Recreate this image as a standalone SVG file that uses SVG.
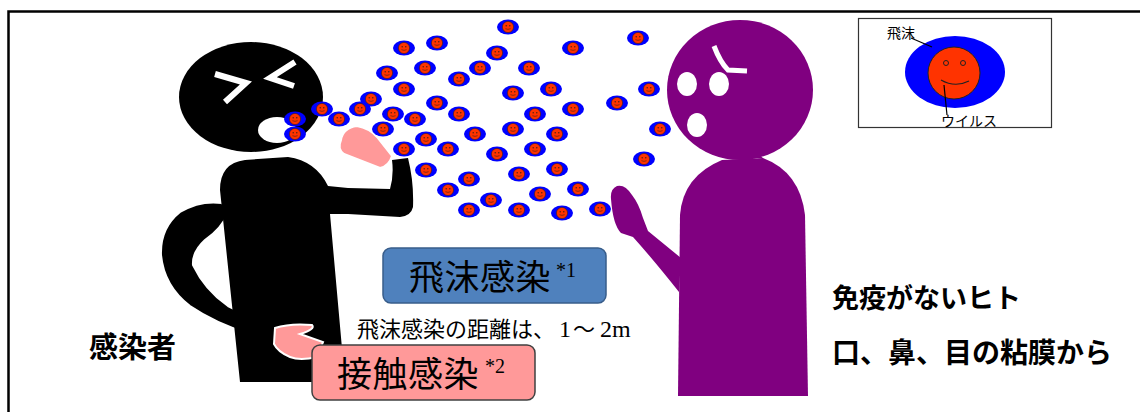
<svg xmlns="http://www.w3.org/2000/svg" xmlns:xlink="http://www.w3.org/1999/xlink" width="1140" height="412" viewBox="0 0 1140 412">
  <style>
    .jp { font-family: "Noto Sans CJK JP", "Noto Sans", sans-serif; fill: #000; }
    .bold { font-weight: bold; }
    .sup { font-family: "Liberation Serif", "DejaVu Serif", serif; fill: #000; }
    .lbl { font-size: 14px; }
    .box-title { font-size: 35px; letter-spacing: 0.5px; }
    .leader { stroke: #000; stroke-width: 1.2; fill: none; }
    .skin { fill: #ff9999; stroke: #fff; stroke-width: 2; }
    .white-mark { fill: none; stroke: #fff; stroke-width: 6; stroke-linecap: butt; stroke-linejoin: miter; }
  </style>
  <defs>
    <filter id="soft" x="-20%" y="-30%" width="140%" height="160%">
      <feGaussianBlur stdDeviation="0.7"/>
    </filter>
    <!-- droplet carrying a virus particle -->
    <symbol id="drop" overflow="visible">
      <ellipse cx="0" cy="0" rx="11" ry="7.5" fill="#0000ff" filter="url(#soft)"/>
      <circle cx="0" cy="0" r="5.6" fill="#ff3300" stroke="#402010" stroke-width="0.6"/>
      <circle cx="-1.8" cy="-1.3" r="0.7" fill="#402010"/>
      <circle cx="1.8" cy="-1.3" r="0.7" fill="#402010"/>
      <path d="M-2.6,1.7 Q0,3 2.6,1.7" fill="none" stroke="#402010" stroke-width="0.6"/>
    </symbol>
  </defs>

  <rect width="1140" height="412" fill="#fff"/>

  <!-- outer frame -->
  <path d="M8.5,412 V11.5 H1140" fill="none" stroke="#000" stroke-width="2.5"/>

  <!-- infected person (black) -->
  <g id="infected-person">
    <!-- arm behind the back -->
    <path d="M222,203 Q200,200 180,212 Q160,228 161,255 Q164,286 190,306 Q215,323 250,334 L276,343 L276,324 Q250,318 228,306 Q205,290 193,265 Q192,252 205,240 Q222,228 228,213 Z" fill="#000" stroke="#fff" stroke-width="2"/>
    <!-- torso with raised arm -->
    <path d="M240,382 L220,190 Q220,163 245,160 L288,157 Q316,161 328,186 L348,188 L390,189 Q394,175 392,160 L408,158 Q414,182 413,207 Q411,216 400,217 L348,214 L330,214 L345,382 Z" fill="#000"/>
    <!-- hand held to the mouth -->
    <path class="skin" d="M341,140 Q343,128 357,126 Q369,128 377,137 L392,156 Q389,166 380,168 L344,154 Q337,149 341,140 Z"/>
    <!-- hand on the back -->
    <path class="skin" d="M275,328 Q290,323 312,325 Q316,329 300,334 L323,342 L317,357 Q300,361 290,357 Q278,352 274,344 Z"/>
    <!-- head -->
    <ellipse cx="251" cy="97" rx="72" ry="55" fill="#000"/>
    <ellipse cx="277" cy="130" rx="19" ry="13" fill="#fff"/>
    <!-- squeezed eyes -->
    <path class="white-mark" d="M215,74 L246,83 L225,102"/>
    <path class="white-mark" d="M295,62 L270,78 L294,86"/>
  </g>

  <!-- healthy person (purple) -->
  <g id="healthy-person">
    <path d="M678,396 L680,215 Q683,176 722,160 L763,158 Q800,172 805,215 L808,396 Z" fill="#800080"/>
    <path d="M681,258 L648,231 L643,218 Q639,204 632,195 Q625,184 617,186 Q610,189 611,199 Q613,225 621,233 L633,237 Q652,258 679,292 Z" fill="#800080"/>
    <ellipse cx="740" cy="90" rx="73" ry="70" fill="#800080"/>
    <path d="M722,158 L763,158 L752,150 L732,150 Z" fill="#800080"/>
    <!-- face -->
    <ellipse cx="687" cy="84" rx="10" ry="12" fill="#fff"/>
    <ellipse cx="719" cy="84" rx="10" ry="12" fill="#fff"/>
    <ellipse cx="697" cy="125" rx="10" ry="12" fill="#fff"/>
    <path d="M714,46 Q720,62 728,70 L747,71" fill="none" stroke="#fff" stroke-width="5"/>
  </g>

  <!-- droplets spreading from the mouth -->
  <g id="droplets">
    <use xlink:href="#drop" x="508" y="27"/>
    <use xlink:href="#drop" x="638" y="38"/>
    <use xlink:href="#drop" x="404" y="48"/>
    <use xlink:href="#drop" x="437" y="43"/>
    <use xlink:href="#drop" x="497" y="53"/>
    <use xlink:href="#drop" x="573" y="48"/>
    <use xlink:href="#drop" x="387" y="73"/>
    <use xlink:href="#drop" x="425" y="68"/>
    <use xlink:href="#drop" x="480" y="68"/>
    <use xlink:href="#drop" x="529" y="68"/>
    <use xlink:href="#drop" x="459" y="79"/>
    <use xlink:href="#drop" x="404" y="89"/>
    <use xlink:href="#drop" x="513" y="93"/>
    <use xlink:href="#drop" x="551" y="89"/>
    <use xlink:href="#drop" x="649" y="89"/>
    <use xlink:href="#drop" x="371" y="99"/>
    <use xlink:href="#drop" x="322" y="109"/>
    <use xlink:href="#drop" x="360" y="109"/>
    <use xlink:href="#drop" x="437" y="103"/>
    <use xlink:href="#drop" x="393" y="114"/>
    <use xlink:href="#drop" x="459" y="114"/>
    <use xlink:href="#drop" x="535" y="114"/>
    <use xlink:href="#drop" x="573" y="109"/>
    <use xlink:href="#drop" x="617" y="103"/>
    <use xlink:href="#drop" x="295" y="119"/>
    <use xlink:href="#drop" x="339" y="119"/>
    <use xlink:href="#drop" x="415" y="119"/>
    <use xlink:href="#drop" x="383" y="129"/>
    <use xlink:href="#drop" x="513" y="129"/>
    <use xlink:href="#drop" x="475" y="134"/>
    <use xlink:href="#drop" x="557" y="134"/>
    <use xlink:href="#drop" x="660" y="129"/>
    <use xlink:href="#drop" x="295" y="134"/>
    <use xlink:href="#drop" x="426" y="139"/>
    <use xlink:href="#drop" x="404" y="149"/>
    <use xlink:href="#drop" x="448" y="149"/>
    <use xlink:href="#drop" x="535" y="149"/>
    <use xlink:href="#drop" x="497" y="154"/>
    <use xlink:href="#drop" x="426" y="170"/>
    <use xlink:href="#drop" x="519" y="174"/>
    <use xlink:href="#drop" x="557" y="169"/>
    <use xlink:href="#drop" x="644" y="159"/>
    <use xlink:href="#drop" x="469" y="179"/>
    <use xlink:href="#drop" x="448" y="190"/>
    <use xlink:href="#drop" x="540" y="194"/>
    <use xlink:href="#drop" x="578" y="189"/>
    <use xlink:href="#drop" x="491" y="200"/>
    <use xlink:href="#drop" x="469" y="210"/>
    <use xlink:href="#drop" x="519" y="210"/>
    <use xlink:href="#drop" x="562" y="213"/>
    <use xlink:href="#drop" x="600" y="209"/>
  </g>

  <!-- legend: droplet and virus -->
  <g id="legend">
    <rect x="858.5" y="18.5" width="193" height="109" fill="#fff" stroke="#333" stroke-width="1.2"/>
    <ellipse cx="955" cy="72" rx="50" ry="36" fill="#0000ff" filter="url(#soft)"/>
    <circle cx="954" cy="73" r="26" fill="#ff3300" stroke="#222" stroke-width="1"/>
    <circle cx="946" cy="63" r="2.5" fill="none" stroke="#222" stroke-width="1"/>
    <circle cx="963" cy="63" r="2.5" fill="none" stroke="#222" stroke-width="1"/>
    <path d="M941,80 Q955,88 969,81" fill="none" stroke="#222" stroke-width="1.2"/>
    <path class="leader" d="M911,38 L932,47"/>
    <path class="leader" d="M944,85 L947,115"/>
    <text class="jp lbl" x="887" y="38">飛沫</text>
    <text class="jp lbl" x="941" y="126">ウイルス</text>
  </g>

  <!-- droplet infection box -->
  <g id="droplet-infection">
    <rect x="383" y="248" width="223" height="55" rx="8" fill="#4f81bd" stroke="#385d8a" stroke-width="1.5"/>
    <text class="jp box-title" x="409" y="290">飛沫感染</text>
    <text class="sup" x="556" y="277" font-size="20">*1</text>
  </g>

  <!-- distance note -->
  <g id="distance-note">
    <text class="jp" y="337" font-size="22"><tspan x="357">飛沫感染の距離は、</tspan><tspan class="sup" x="559" font-size="24">1</tspan><tspan x="573">〜</tspan><tspan class="sup" x="600" font-size="24">2m</tspan></text>
  </g>

  <!-- contact infection box -->
  <g id="contact-infection">
    <rect x="312" y="345" width="223" height="55" rx="8" fill="#ff9999" stroke="#404040" stroke-width="1.5"/>
    <text class="jp box-title" x="337" y="387">接触感染</text>
    <text class="sup" x="485" y="373" font-size="20">*2</text>
  </g>

  <!-- captions -->
  <g id="captions">
    <text class="jp bold" x="89" y="358" font-size="29">感染者</text>
    <text class="jp bold" x="832" y="308" font-size="27">免疫がないヒト</text>
    <text class="jp bold" x="832" y="363" font-size="28">口、鼻、目の粘膜から</text>
  </g>
</svg>
